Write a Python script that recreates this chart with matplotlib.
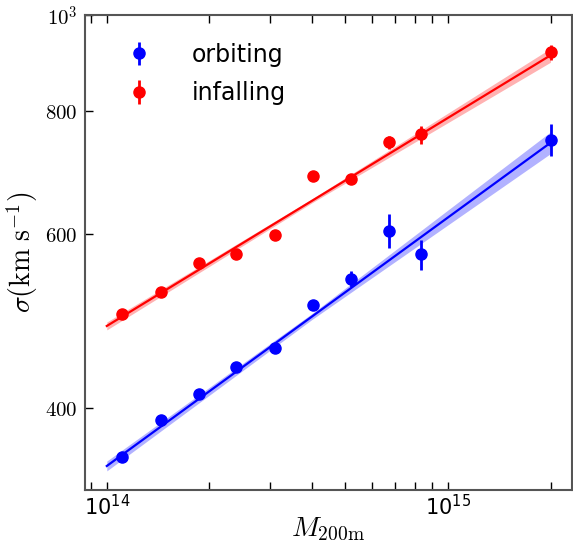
import numpy as np
import matplotlib
matplotlib.use('Agg')
import matplotlib.pyplot as plt
from matplotlib.ticker import NullLocator, FixedLocator, FixedFormatter

plt.rcParams['mathtext.fontset'] = 'cm'

# halo mass bins
mass = [1.11e14, 1.44e14, 1.86e14, 2.40e14, 3.11e14, 4.02e14, 5.19e14, 6.71e14, 8.33e14, 2.0e15]

# velocity dispersion, orbiting
sig_orb = [356, 389, 413, 440, 460, 508, 540, 604, 572, 748]
err_orb = [3, 4, 4, 4, 5, 6, 10, 24, 20, 28]

# velocity dispersion, infalling
sig_inf = [498, 524, 561, 573, 599, 687, 682, 743, 757, 917]
err_inf = [3, 3, 3, 3, 3, 6, 7, 12, 16, 16]

# power-law fits  sigma = norm * (M/1e14)^slope
fit_x = [1e14, 4e14, 2e15]
orb_norm, orb_slope = 349, 0.252
inf_norm, inf_slope = 484, 0.211
orb_band = [0.005, 0.003, 0.011]   # half width in dex
inf_band = [0.004, 0.002, 0.007]

fig = plt.figure(figsize=(5.73, 5.45), dpi=100)
ax = fig.add_axes([0.148, 0.101, 0.85, 0.871])

fx = np.array(fit_x)
for norm, slope, band, c in [(orb_norm, orb_slope, orb_band, 'blue'),
                             (inf_norm, inf_slope, inf_band, 'red')]:
    fy = norm * (fx / 1e14) ** slope
    b = 10 ** np.array(band)
    ax.fill_between(fx, fy / b, fy * b, color=c, alpha=0.3, lw=0)
    ax.plot(fx, fy, color=c, lw=1.6)

ax.errorbar(mass, sig_orb, yerr=err_orb, fmt='o', color='blue', ms=8, elinewidth=2, capsize=0, label='orbiting')
ax.errorbar(mass, sig_inf, yerr=err_inf, fmt='o', color='red', ms=8, elinewidth=2, capsize=0, label='infalling')

ax.set_xscale('log')
ax.set_yscale('log')
ax.set_xlim(8.62e13, 2.31e15)
ax.set_ylim(330, 1000)

ax.yaxis.set_major_locator(FixedLocator([400, 600, 800, 1000]))
ax.yaxis.set_major_formatter(FixedFormatter(['$400$', '$600$', '$800$', '$10^3$']))
ax.yaxis.set_minor_locator(NullLocator())

ax.tick_params(which='both', direction='in', top=True, right=False, length=6, width=1, labelsize=15)
ax.tick_params(axis='x', pad=3)
ax.tick_params(axis='y', pad=5)
for s in ax.spines.values():
    s.set_color('#555555')
    s.set_linewidth(1.5)

ax.set_xlabel(r'$M_{\rm 200m}$', fontsize=20, labelpad=-3)
ax.set_ylabel(r'$\sigma({\rm km\ s^{-1}})$', fontsize=20, labelpad=4)

ax.legend(loc='upper left', frameon=False, fontsize=17, handletextpad=1.2, labelspacing=0.62,
          borderaxespad=0.6, bbox_to_anchor=(0.015, 0.992))

fig.savefig('out.png', dpi=100)
